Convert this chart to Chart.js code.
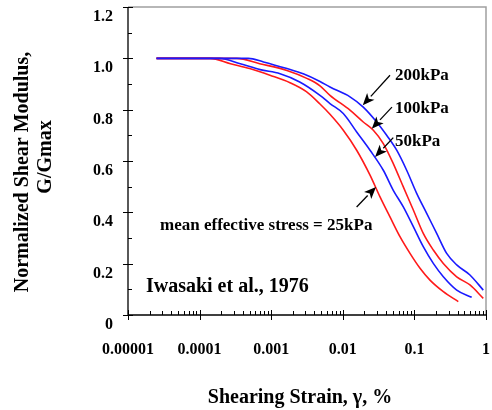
<!DOCTYPE html>
<html>
<head>
<meta charset="utf-8">
<script src="https://cdn.jsdelivr.net/npm/chart.js@4.4.1/dist/chart.umd.min.js"></script>
<style>
    html, body { margin: 0; padding: 0; background: #fff; }
    #wrap { width: 492px; height: 410px; }
</style>
</head>
<body>
<div id="wrap"><canvas id="modulusChart" width="492" height="410"></canvas></div>
<script>
// values (strain in %, G/Gmax)
var strain200 = [0.000025, 0.00048, 0.00078, 0.00166, 0.0028, 0.0048, 0.00662, 0.0126, 0.0193, 0.0297, 0.041, 0.0566, 0.078, 0.1076, 0.1485, 0.2047, 0.2824, 0.39, 0.597, 0.916];
var modulus200 = [1.0, 1.0, 0.986, 0.96, 0.94, 0.91, 0.888, 0.85, 0.81, 0.752, 0.70, 0.642, 0.564, 0.474, 0.396, 0.318, 0.240, 0.195, 0.156, 0.097];

var strain100 = [0.000025, 0.00033, 0.00069, 0.00166, 0.0032, 0.0048, 0.00662, 0.0126, 0.0193, 0.0267, 0.0368, 0.0507, 0.07, 0.0966, 0.133, 0.1837, 0.2535, 0.39, 0.597, 0.916];
var modulus100 = [1.0, 1.0, 0.979, 0.953, 0.921, 0.893, 0.856, 0.798, 0.752, 0.720, 0.668, 0.590, 0.499, 0.409, 0.318, 0.253, 0.201, 0.149, 0.117, 0.065];

var strain50 = [0.000025, 0.00019, 0.00037, 0.0007, 0.00133, 0.0025, 0.0048, 0.00662, 0.01016, 0.01563, 0.024, 0.0368, 0.0507, 0.07, 0.0966, 0.133, 0.1837, 0.2535, 0.39, 0.631];
var modulus50 = [1.0, 1.0, 0.979, 0.956, 0.94, 0.908, 0.856, 0.824, 0.785, 0.713, 0.642, 0.564, 0.486, 0.421, 0.344, 0.266, 0.201, 0.149, 0.097, 0.069];

var strain25 = [0.000025, 0.00014, 0.00027, 0.0005, 0.00096, 0.00183, 0.0031, 0.0048, 0.00662, 0.01016, 0.01563, 0.024, 0.0331, 0.0456, 0.0629, 0.0868, 0.1198, 0.165, 0.2535, 0.41];
var modulus25 = [1.0, 1.0, 0.979, 0.96, 0.934, 0.905, 0.87, 0.822, 0.782, 0.720, 0.642, 0.545, 0.460, 0.382, 0.305, 0.240, 0.182, 0.136, 0.091, 0.052];

var xTickValues = [0.00001, 0.0001, 0.001, 0.01, 0.1, 1];
var xTickLabels = ['0.00001', '0.0001', '0.001', '0.01', '0.1', '1'];
var yTickValues = [0, 0.2, 0.4, 0.6, 0.8, 1.0, 1.2];
var yTickLabels = ['0', '0.2', '0.4', '0.6', '0.8', '1.0', '1.2'];

// label text, arrow tail and arrow tip in data coordinates
var notes = [
    { text: '200kPa', at: [0.0536, 0.934], from: [0.0456, 0.934], to: [0.019, 0.817] },
    { text: '100kPa', at: [0.0536, 0.805], from: [0.0486, 0.810], to: [0.0254, 0.726] },
    { text: '50kPa', at: [0.0536, 0.674], from: [0.0507, 0.691], to: [0.0282, 0.616] },
    { text: 'mean effective stress = 25kPa', at: [0.000028, 0.35], from: [0.0156, 0.421], to: [0.0291, 0.499] }
];

var serif = '"Liberation Serif", "Times New Roman", serif';

function toPoints(xs, ys) {
    return xs.map(function (x, i) { return { x: x, y: ys[i] }; });
}

function noPadding(scale) {
    scale.paddingLeft = 0;
    scale.paddingRight = 0;
    scale.paddingTop = 0;
    scale.paddingBottom = 0;
}

function arrow(ctx, x1, y1, x2, y2) {
    var ang = Math.atan2(y2 - y1, x2 - x1);
    var len = 12, half = 5;
    var bx = x2 - len * Math.cos(ang), by = y2 - len * Math.sin(ang);
    ctx.beginPath();
    ctx.moveTo(x1, y1);
    ctx.lineTo(bx, by);
    ctx.lineWidth = 1.3;
    ctx.strokeStyle = '#000';
    ctx.stroke();
    ctx.beginPath();
    ctx.moveTo(x2, y2);
    ctx.lineTo(bx + half * Math.sin(ang), by - half * Math.cos(ang));
    ctx.lineTo(bx + 3 * Math.cos(ang), by + 3 * Math.sin(ang));
    ctx.lineTo(bx - half * Math.sin(ang), by + half * Math.cos(ang));
    ctx.closePath();
    ctx.fillStyle = '#000';
    ctx.fill();
}

var decorPlugin = {
    id: 'decor',
    afterDraw: function (chart) {
        var ctx = chart.ctx;
        var a = chart.chartArea;
        var xs = chart.scales.x, ys = chart.scales.y;
        ctx.save();

        // grey frame top and right
        ctx.strokeStyle = '#a0a0a0';
        ctx.lineWidth = 1.5;
        ctx.beginPath();
        ctx.moveTo(a.left, a.top);
        ctx.lineTo(a.right, a.top);
        ctx.lineTo(a.right, a.bottom);
        ctx.stroke();

        // black axes
        ctx.strokeStyle = '#000';
        ctx.lineWidth = 1.3;
        ctx.beginPath();
        ctx.moveTo(a.left, a.top);
        ctx.lineTo(a.left, a.bottom);
        ctx.lineTo(a.right, a.bottom);
        ctx.stroke();

        // y ticks
        ctx.lineWidth = 1;
        ctx.beginPath();
        for (var i = 0; i <= 12; i++) {
            var py = Math.round(ys.getPixelForValue(i / 10)) + 0.5;
            if (i % 2 === 0) {
                ctx.moveTo(a.left - 5, py);
                ctx.lineTo(a.left + 5, py);
            } else {
                ctx.moveTo(a.left, py);
                ctx.lineTo(a.left + 4, py);
            }
        }
        // x ticks
        for (var d = -5; d <= 0; d++) {
            var base = Math.pow(10, d);
            var px = Math.round(xs.getPixelForValue(base)) + 0.5;
            ctx.moveTo(px, a.bottom - 5);
            ctx.lineTo(px, a.bottom + 5);
            if (d === 0) break;
            for (var m = 2; m <= 9; m++) {
                var mx = Math.round(xs.getPixelForValue(base * m)) + 0.5;
                ctx.moveTo(mx, a.bottom - 4);
                ctx.lineTo(mx, a.bottom);
            }
        }
        ctx.stroke();

        // annotations
        ctx.fillStyle = '#000';
        ctx.textBaseline = 'middle';
        ctx.textAlign = 'left';
        ctx.font = 'bold 17px ' + serif;
        notes.forEach(function (n) {
            ctx.fillText(n.text, xs.getPixelForValue(n.at[0]), ys.getPixelForValue(n.at[1]));
            arrow(ctx, xs.getPixelForValue(n.from[0]), ys.getPixelForValue(n.from[1]),
                xs.getPixelForValue(n.to[0]), ys.getPixelForValue(n.to[1]));
        });

        ctx.font = 'bold 20px ' + serif;
        ctx.fillText('Iwasaki et al., 1976', xs.getPixelForValue(0.0000178), ys.getPixelForValue(0.109));

        // axis titles
        ctx.textAlign = 'center';
        ctx.font = 'bold 20px ' + serif;
        ctx.fillText('Shearing Strain, \u03B3, %', (a.left + a.right) / 2 - 7, 398);

        ctx.save();
        ctx.rotate(-Math.PI / 2);
        ctx.fillText('Normalized Shear Modulus,', -172, 23);
        ctx.fillText('G/Gmax', -157, 46);
        ctx.restore();

        ctx.restore();
    }
};

var modulusChart = new Chart(document.getElementById('modulusChart'), {
    type: 'line',
    data: {
        datasets: [
            { label: '200kPa', data: toPoints(strain200, modulus200), borderColor: '#1a1aff' },
            { label: '100kPa', data: toPoints(strain100, modulus100), borderColor: '#ff1a1a' },
            { label: '50kPa', data: toPoints(strain50, modulus50), borderColor: '#1a1aff' },
            { label: '25kPa', data: toPoints(strain25, modulus25), borderColor: '#ff1a1a' }
        ]
    },
    options: {
        responsive: false,
        animation: false,
        elements: {
            line: { borderWidth: 1.6, cubicInterpolationMode: 'monotone', fill: false },
            point: { radius: 0 }
        },
        layout: { padding: { left: 0, right: 6, top: 7, bottom: 0 } },
        plugins: {
            legend: { display: false },
            tooltip: { enabled: false }
        },
        scales: {
            x: {
                type: 'logarithmic',
                min: 0.00001,
                max: 1,
                grid: { display: false, drawTicks: false },
                border: { display: false },
                afterBuildTicks: function (scale) {
                    scale.ticks = xTickValues.map(function (v) { return { value: v }; });
                },
                afterFit: function (scale) {
                    scale.height = 95;
                    noPadding(scale);
                },
                ticks: {
                    autoSkip: false,
                    maxRotation: 0,
                    padding: 25,
                    color: '#000',
                    font: { family: serif, size: 16, weight: 'bold' },
                    callback: function (v) {
                        var i = xTickValues.indexOf(v);
                        return i >= 0 ? xTickLabels[i] : '';
                    }
                }
            },
            y: {
                min: 0,
                max: 1.2,
                grid: { display: false, drawTicks: false },
                border: { display: false },
                afterBuildTicks: function (scale) {
                    scale.ticks = yTickValues.map(function (v) { return { value: v }; });
                },
                afterFit: function (scale) {
                    scale.width = 128;
                    noPadding(scale);
                },
                ticks: {
                    padding: 15,
                    labelOffset: 10,
                    color: '#000',
                    font: { family: serif, size: 16, weight: 'bold' },
                    callback: function (v) {
                        var i = yTickValues.indexOf(v);
                        return i >= 0 ? yTickLabels[i] : '';
                    }
                }
            }
        }
    },
    plugins: [decorPlugin]
});
</script>
</body>
</html>
